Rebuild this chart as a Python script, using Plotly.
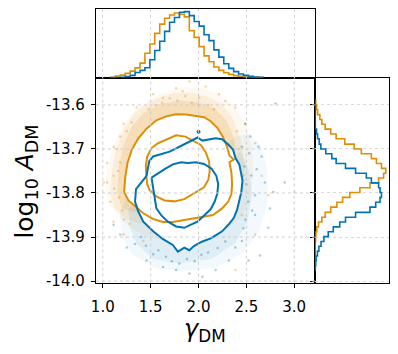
import plotly.graph_objects as go

ORANGE = "#DE8F05"
BLUE = "#0173B2"
FONT = "DejaVu Sans"

# ---- data ----
gamma_ticks = [1.0, 1.5, 2.0, 2.5, 3.0]
gamma_ticktext = ["1.0", "1.5", "2.0", "2.5", "3.0"]
logA_ticks = [-13.6, -13.7, -13.8, -13.9, -14.0]
logA_ticktext = ["-13.6", "-13.7", "-13.8", "-13.9", "-14.0"]

# marginal histogram of gamma_DM (bin edges, normalised heights)
gamma_edges = [1.080, 1.131, 1.183, 1.234, 1.286, 1.337, 1.389, 1.440, 1.492, 1.543,
               1.595, 1.646, 1.698, 1.749, 1.801, 1.852, 1.904, 1.955, 2.007, 2.058,
               2.110, 2.161, 2.213, 2.264, 2.316, 2.367, 2.419, 2.470, 2.522, 2.573,
               2.625, 2.676]
gamma_hist_orange = [0.006, 0.024, 0.038, 0.064, 0.098, 0.148, 0.22, 0.37, 0.51, 0.67,
                     0.81, 0.90, 0.95, 0.98, 0.96, 0.92, 0.71, 0.61, 0.47, 0.33,
                     0.24, 0.16, 0.11, 0.074, 0.049, 0.03, 0.02, 0.01, 0.005, 0.0, 0.0]
gamma_hist_blue = [0.0, 0.0, 0.005, 0.015, 0.034, 0.078, 0.11, 0.15, 0.27, 0.41,
                   0.55, 0.70, 0.84, 0.91, 0.99, 1.0, 0.94, 0.85, 0.78, 0.65,
                   0.56, 0.42, 0.31, 0.21, 0.14, 0.09, 0.054, 0.034, 0.02, 0.01, 0.005]

# marginal histogram of log10 A_DM
logA_edges = [-13.589, -13.600, -13.611, -13.622, -13.633, -13.644, -13.655, -13.666,
              -13.677, -13.689, -13.700, -13.711, -13.722, -13.733, -13.744, -13.755,
              -13.766, -13.777, -13.788, -13.799, -13.810, -13.821, -13.832, -13.844,
              -13.855, -13.866, -13.877, -13.888, -13.899, -13.910, -13.921, -13.932,
              -13.943, -13.954, -13.965, -13.976]
logA_hist_orange = [0.005, 0.018, 0.032, 0.064, 0.091, 0.138, 0.215, 0.29, 0.41, 0.54,
                    0.64, 0.78, 0.85, 0.92, 0.98, 0.95, 0.88, 0.76, 0.62, 0.48,
                    0.38, 0.30, 0.215, 0.138, 0.091, 0.045, 0.022, 0.008, 0.004, 0.0,
                    0.0, 0.0, 0.0, 0.0, 0.0]
logA_hist_blue = [0.0, 0.0, 0.0, 0.0, 0.0, 0.0, 0.018, 0.032, 0.055, 0.077,
                  0.146, 0.23, 0.29, 0.42, 0.56, 0.71, 0.78, 0.88, 0.90, 0.92,
                  0.90, 0.84, 0.76, 0.56, 0.42, 0.34, 0.25, 0.18, 0.12, 0.08,
                  0.05, 0.03, 0.012, 0.006, 0.0]

# 2D credible contours
orange_outer_g = [1.223, 1.234, 1.258, 1.302, 1.371, 1.457, 1.560, 1.663, 1.766, 1.869,
                  1.973, 2.058, 2.127, 2.196, 2.254, 2.299, 2.323, 2.368, 2.323, 2.344,
                  2.351, 2.344, 2.309, 2.247, 2.151, 2.041, 1.938, 1.835, 1.732, 1.629,
                  1.526, 1.423, 1.337, 1.268, 1.223]
orange_outer_a = [-13.798, -13.765, -13.732, -13.702, -13.676, -13.654, -13.635, -13.626,
                  -13.621, -13.622, -13.625, -13.628, -13.637, -13.652, -13.672, -13.695,
                  -13.715, -13.724, -13.730, -13.754, -13.780, -13.802, -13.820, -13.835,
                  -13.850, -13.854, -13.857, -13.861, -13.866, -13.866, -13.859, -13.846,
                  -13.831, -13.817, -13.798]
orange_inner_g = [1.457, 1.450, 1.464, 1.509, 1.577, 1.663, 1.766, 1.863, 1.945, 2.024,
                  2.076, 2.110, 2.117, 2.103, 2.058, 2.007, 1.938, 1.852, 1.749, 1.646,
                  1.560, 1.491, 1.464, 1.457]
orange_inner_a = [-13.765, -13.739, -13.717, -13.698, -13.687, -13.678, -13.669, -13.672,
                  -13.681, -13.691, -13.708, -13.728, -13.750, -13.770, -13.787, -13.794,
                  -13.804, -13.814, -13.819, -13.817, -13.808, -13.794, -13.780, -13.765]
blue_outer_g = [1.457, 1.405, 1.347, 1.337, 1.371, 1.423, 1.526, 1.629, 1.732, 1.784,
                1.852, 1.904, 1.955, 2.041, 2.127, 2.179, 2.247, 2.316, 2.368, 2.402,
                2.426, 2.447, 2.460, 2.436, 2.426, 2.385, 2.361, 2.316, 2.247, 2.179,
                2.110, 2.041, 1.990, 1.938, 1.887, 1.801, 1.698, 1.595, 1.526, 1.485,
                1.474, 1.457]
blue_outer_a = [-13.761, -13.776, -13.791, -13.820, -13.842, -13.865, -13.887, -13.905,
                -13.918, -13.933, -13.924, -13.930, -13.920, -13.910, -13.903, -13.896,
                -13.887, -13.871, -13.857, -13.839, -13.820, -13.798, -13.772, -13.746,
                -13.735, -13.720, -13.702, -13.691, -13.678, -13.676, -13.678, -13.681,
                -13.674, -13.680, -13.687, -13.695, -13.706, -13.713, -13.717, -13.728,
                -13.743, -13.761]
blue_inner_g = [1.509, 1.526, 1.543, 1.560, 1.612, 1.680, 1.766, 1.852, 1.921, 1.990,
                2.058, 2.127, 2.168, 2.196, 2.206, 2.186, 2.137, 2.058, 1.973, 1.887,
                1.818, 1.732, 1.646, 1.567, 1.509]
blue_inner_a = [-13.765, -13.787, -13.809, -13.835, -13.851, -13.865, -13.876, -13.879,
                -13.872, -13.865, -13.851, -13.837, -13.820, -13.802, -13.780, -13.761,
                -13.745, -13.734, -13.730, -13.732, -13.730, -13.735, -13.746, -13.757,
                -13.765]
blue_island_g = [2.0]
blue_island_a = [-13.661]

# where the samples outside the contours are (faint outer region / denser band)
orange_haze_outer_g = [1.027, 1.045, 1.096, 1.182, 1.302, 1.457, 1.629, 1.835, 2.041, 2.213,
                       2.368, 2.488, 2.557, 2.574, 2.540, 2.436, 2.316, 2.041, 1.766, 1.491,
                       1.285, 1.148, 1.062]
orange_haze_outer_a = [-13.791, -13.746, -13.702, -13.658, -13.621, -13.591, -13.573, -13.560,
                       -13.562, -13.576, -13.602, -13.643, -13.695, -13.754, -13.813, -13.857,
                       -13.879, -13.902, -13.909, -13.902, -13.879, -13.850, -13.820]
orange_haze_mid_g = [1.080, 1.095, 1.140, 1.230, 1.360, 1.520, 1.700, 1.900, 2.080, 2.240,
                     2.360, 2.440, 2.480, 2.470, 2.380, 2.041, 1.400, 1.250, 1.120]
orange_haze_mid_a = [-13.800, -13.750, -13.700, -13.650, -13.612, -13.590, -13.575, -13.572,
                     -13.580, -13.598, -13.630, -13.680, -13.735, -13.790, -13.830, -13.830,
                     -13.870, -13.860, -13.835]
orange_haze_inner_g = [1.150, 1.165, 1.210, 1.300, 1.430, 1.600, 1.800, 2.000, 2.170, 2.290,
                       2.370, 2.400, 2.360, 2.041, 1.354, 1.200]
orange_haze_inner_a = [-13.800, -13.745, -13.695, -13.650, -13.618, -13.598, -13.590, -13.594,
                       -13.608, -13.635, -13.675, -13.725, -13.776, -13.805, -13.845, -13.835]
blue_haze_outer_g = [2.385, 2.540, 2.660, 2.720, 2.720, 2.630, 2.440, 2.179, 1.835, 1.540,
                     1.310, 1.200, 1.180, 1.240, 1.354, 1.698, 2.213]
blue_haze_outer_a = [-13.672, -13.665, -13.695, -13.750, -13.820, -13.890, -13.940, -13.970,
                     -13.978, -13.970, -13.940, -13.900, -13.850, -13.810, -13.776, -13.746,
                     -13.702]
blue_haze_inner_g = [2.436, 2.522, 2.560, 2.510, 2.380, 2.130, 1.801, 1.526, 1.354, 1.285,
                     1.268, 1.698, 2.213]
blue_haze_inner_a = [-13.705, -13.745, -13.805, -13.865, -13.915, -13.950, -13.960, -13.950,
                     -13.916, -13.879, -13.835, -13.805, -13.746]

# isolated samples
orange_pts_g = [3.003, 1.010, 1.045, 1.079, 1.113, 1.216, 1.354, 1.526, 1.904, 1.766,
                2.076, 2.213, 2.385, 2.488, 2.591, 2.660, 2.591, 2.385, 1.113, 1.216,
                1.423, 1.045, 1.113, 1.182, 1.629, 2.007, 1.835, 2.282, 2.454, 2.729,
                1.55, 1.62, 1.70, 1.78, 1.86, 1.93, 2.00, 2.10, 2.16, 1.48,
                1.15, 1.18, 1.12, 1.17, 1.20, 1.16, 1.25, 1.30, 1.22, 1.28,
                2.42, 2.40, 2.47]
orange_pts_a = [-13.798, -13.776, -13.732, -13.820, -13.695, -13.643, -13.606, -13.576,
                -13.547, -13.562, -13.558, -13.576, -13.606, -13.643, -13.687, -13.761,
                -13.894, -13.975, -13.865, -13.894, -13.909, -13.776, -13.761, -13.672,
                -13.584, -13.584, -13.569, -13.591, -13.850, -13.805,
                -13.600, -13.595, -13.585, -13.590, -13.580, -13.595, -13.600, -13.600,
                -13.610, -13.610, -13.700, -13.730, -13.790, -13.810, -13.840, -13.750,
                -13.660, -13.640, -13.860, -13.870, -13.700, -13.660, -13.760]
blue_pts_g = [2.804, 2.643, 2.780, 2.694, 2.729, 2.522, 1.457, 1.251, 1.337, 2.041,
              2.179, 2.385, 2.591, 2.540, 2.660, 2.746, 2.608, 2.488, 1.766, 1.629,
              1.904, 2.316, 2.454, 1.182, 1.113, 2.591, 2.454, 2.900, 2.625, 1.526,
              1.58, 1.66, 1.72, 1.80, 1.88, 1.96, 2.03, 2.10, 2.20, 2.28, 1.45, 1.40,
              2.48, 2.50, 2.52, 2.49, 2.55, 2.47, 2.53, 2.56]
blue_pts_a = [-13.597, -13.942, -13.798, -13.776, -13.879, -13.953, -13.953, -13.924,
              -13.916, -13.990, -13.975, -13.924, -13.850, -13.672, -13.717, -13.835,
              -13.746, -13.643, -13.975, -13.968, -13.983, -13.953, -13.909, -13.894,
              -13.872, -13.805, -13.695, -13.776, -13.695, -13.939,
              -13.930, -13.945, -13.955, -13.960, -13.950, -13.955, -13.940, -13.935,
              -13.925, -13.910, -13.920, -13.900, -13.740, -13.780, -13.820, -13.860,
              -13.760, -13.880, -13.710, -13.840]


def area(g, a, color):
    return go.Scatter(x=g, y=a, mode="lines", fill="toself", fillcolor=color,
                      line=dict(width=0), hoverinfo="skip", showlegend=False)


def line(g, a, color, width=2.0):
    return go.Scatter(x=g, y=a, mode="lines", line=dict(color=color, width=width),
                      hoverinfo="skip", showlegend=False)


def dots(g, a, color):
    return go.Scatter(x=g, y=a, mode="markers", hoverinfo="skip", showlegend=False,
                      marker=dict(color=color, size=2.5, opacity=0.35, line=dict(width=0)))


fig = go.Figure()

# samples, blanked out inside the outer contours
fig.add_trace(area(orange_haze_outer_g, orange_haze_outer_a, "rgba(222,143,5,0.06)"))
fig.add_trace(area(orange_haze_mid_g, orange_haze_mid_a, "rgba(222,143,5,0.09)"))
fig.add_trace(area(orange_haze_inner_g, orange_haze_inner_a, "rgba(222,143,5,0.16)"))
fig.add_trace(area(blue_haze_outer_g, blue_haze_outer_a, "rgba(1,115,178,0.05)"))
fig.add_trace(area(blue_haze_inner_g, blue_haze_inner_a, "rgba(1,115,178,0.08)"))
fig.add_trace(dots(orange_pts_g, orange_pts_a, ORANGE))
fig.add_trace(dots(blue_pts_g, blue_pts_a, BLUE))
fig.add_trace(area(orange_outer_g, orange_outer_a, "white"))
fig.add_trace(area(blue_outer_g, blue_outer_a, "white"))

# contour lines
fig.add_trace(line(orange_outer_g, orange_outer_a, ORANGE))
fig.add_trace(line(orange_inner_g, orange_inner_a, ORANGE))
fig.add_trace(line(blue_outer_g, blue_outer_a, BLUE))
fig.add_trace(line(blue_inner_g, blue_inner_a, BLUE))
fig.add_trace(go.Scatter(x=blue_island_g, y=blue_island_a, mode="markers",
                         marker=dict(color=BLUE, size=4), hoverinfo="skip", showlegend=False))

# marginals
for counts, color in [(gamma_hist_orange, ORANGE), (gamma_hist_blue, BLUE)]:
    fig.add_trace(go.Scatter(x=[gamma_edges[0]] + gamma_edges, y=[0] + counts + [0],
                             mode="lines", line=dict(color=color, width=1.6, shape="hv"),
                             xaxis="x2", yaxis="y2", hoverinfo="skip", showlegend=False))
for counts, color in [(logA_hist_orange, ORANGE), (logA_hist_blue, BLUE)]:
    fig.add_trace(go.Scatter(x=[0] + counts + [0], y=[logA_edges[0]] + logA_edges,
                             mode="lines", line=dict(color=color, width=1.6, shape="vh"),
                             xaxis="x3", yaxis="y3", hoverinfo="skip", showlegend=False))

# the page body keeps its default 8px margin, so the figure is 16px smaller than the window
W, H = 382, 338
GX = [0.2199, 0.8018]
GY = [0.1678, 0.7891]
XR = [0.928, 3.22]
YR = [-14.0035, -13.538]
frame = dict(showline=True, linecolor="black", linewidth=1.3, mirror=True, zeroline=False)
tickfont = dict(family=FONT, size=15, color="black")
GRIDC = "#dadada"

fig.update_layout(
    width=W, height=H,
    margin=dict(l=0, r=0, t=0, b=0),
    paper_bgcolor="white", plot_bgcolor="white",
    xaxis=dict(domain=GX, range=XR, anchor="y", tickvals=gamma_ticks, ticktext=gamma_ticktext,
               ticks="outside", ticklen=4, tickwidth=1.2, tickcolor="black", showgrid=False,
               ticklabelstandoff=6, tickfont=tickfont, **frame),
    yaxis=dict(domain=GY, range=YR, anchor="x", tickvals=logA_ticks, ticktext=logA_ticktext,
               ticks="outside", ticklen=4, tickwidth=1.2, tickcolor="black", showgrid=False,
               ticklabelstandoff=3, tickfont=tickfont, **frame),
    xaxis2=dict(domain=GX, range=XR, anchor="y2", tickvals=gamma_ticks, showticklabels=False,
                showgrid=True, gridcolor=GRIDC, griddash="dot", gridwidth=1, **frame),
    yaxis2=dict(domain=[0.7891, 0.997], range=[0, 1.04], anchor="x2", showticklabels=False,
                showgrid=False, **frame),
    xaxis3=dict(domain=[0.8018, 0.9974], range=[0, 1.025], anchor="y3", showticklabels=False,
                showgrid=False, **frame),
    yaxis3=dict(domain=GY, range=YR, anchor="x3", tickvals=logA_ticks, showticklabels=False,
                ticks="outside", ticklen=4, tickwidth=1.2, tickcolor="black",
                showgrid=True, gridcolor=GRIDC, griddash="dot", gridwidth=1, **frame),
)

# grid of the joint panel sits above the samples
grid = dict(color="#cfcfcf", width=1, dash="dot")
for g in gamma_ticks:
    fig.add_shape(type="line", xref="x", yref="y domain", x0=g, x1=g, y0=0, y1=1,
                  line=grid, layer="above")
for a in logA_ticks:
    fig.add_shape(type="line", xref="x domain", yref="y", x0=0, x1=1, y0=a, y1=a,
                  line=grid, layer="above")

fig.add_annotation(text="log<sub>10</sub> <i>A</i><sub>DM</sub>", xref="paper", yref="paper",
                   x=13 / W, y=(H - 178) / H, xanchor="center", yanchor="middle",
                   textangle=-90, showarrow=False,
                   font=dict(family=FONT, size=25, color="black"))
fig.add_annotation(text="<i>γ</i><sub>DM</sub>", xref="paper", yref="paper",
                   x=195 / W, y=0.0, xanchor="center", yanchor="bottom", yshift=-10,
                   showarrow=False, font=dict(family=FONT, size=24, color="black"))

fig.write_html("out.html")
